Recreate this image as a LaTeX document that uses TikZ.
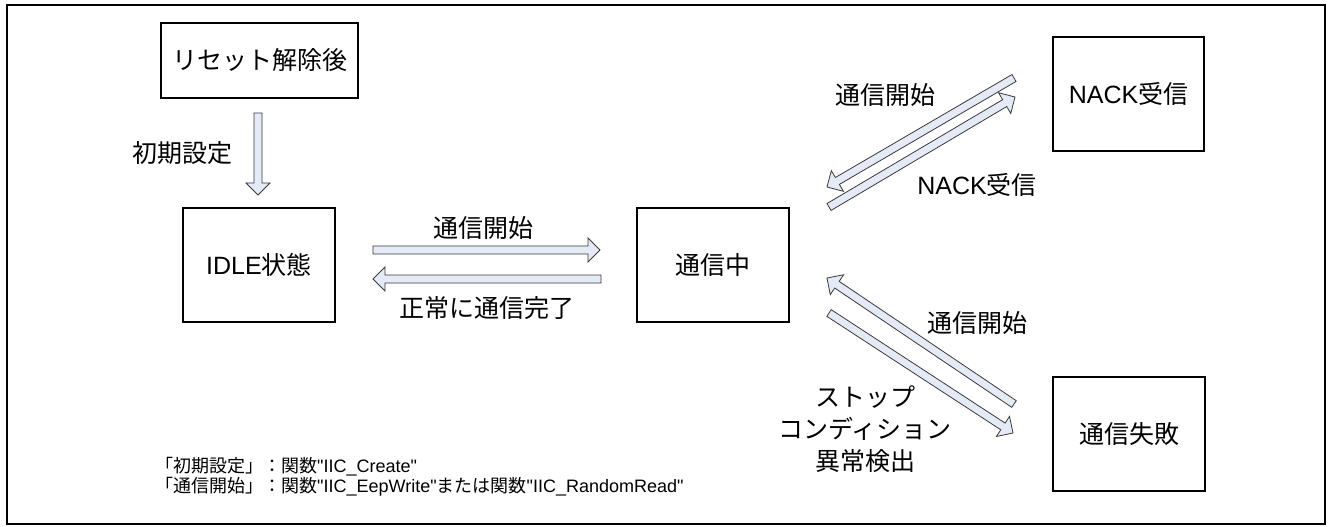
\documentclass[tikz,border=0pt]{standalone}
\usepackage{fontspec}
\setmainfont{Noto Sans CJK JP}
\newfontfamily\lat{Liberation Sans}
\usetikzlibrary{calc}
\definecolor{arrfill}{HTML}{E4EAF6}
\definecolor{arrline}{HTML}{3A3A3A}
\newcommand\blockarr[2]{%
  \coordinate (ba-c) at ($(#2)!12pt!(#1)$);
  \draw[blk] ($(#1)!4pt!90:(#2)$) -- ($(ba-c)!4pt!90:(#2)$) -- ($(ba-c)!12pt!90:(#2)$) -- (#2)
    -- ($(ba-c)!12pt!-90:(#2)$) -- ($(ba-c)!4pt!-90:(#2)$) -- ($(#1)!4pt!-90:(#2)$) -- cycle;}
\begin{document}
\begin{tikzpicture}[x=1pt,y=-1pt,
  box/.style={draw, line width=1.4pt, inner sep=0pt, font=\fontsize{25}{30}\selectfont},
  lbl/.style={font=\fontsize{25}{32}\selectfont, inner sep=0pt, align=center},
  blk/.style={draw=arrline, fill=arrfill, line width=0.8pt, line join=miter},
  note/.style={font=\fontsize{18}{20}\selectfont, inner sep=0pt, anchor=west}]
\useasboundingbox (0,0) rectangle (1328,527);
\draw[line width=2.6pt] (7,5) rectangle (1325,524);
% state boxes
\node[box, minimum width=197pt, minimum height=75pt] (reset) at (259.5,60.5) {リセット解除後};
\node[box, minimum width=152pt, minimum height=114pt] (idle) at (259,265) {{\lat IDLE}状態};
\node[box, minimum width=152pt, minimum height=114pt] (comm) at (713,265) {通信中};
\node[box, minimum width=151pt, minimum height=114pt] (nack) at (1128.5,94) {{\lat NACK}受信};
\node[box, minimum width=152pt, minimum height=114pt] (fail) at (1129,434) {通信失敗};
% arrow end points
\coordinate (d1) at (258,113);  \coordinate (d2) at (258,195);
\coordinate (h1) at (373,250);  \coordinate (h2) at (600,250);
\coordinate (h3) at (601,279);  \coordinate (h4) at (373,279);
\coordinate (ua1) at (1014,78); \coordinate (ua2) at (827,187);
\coordinate (ub1) at (829,207); \coordinate (ub2) at (1015,97);
\coordinate (la1) at (1014,404); \coordinate (la2) at (827,278);
\coordinate (lb1) at (829,313); \coordinate (lb2) at (1013,433);
\blockarr{d1}{d2}
\blockarr{h1}{h2}
\blockarr{h3}{h4}
\blockarr{ua1}{ua2}
\blockarr{ub1}{ub2}
\blockarr{la1}{la2}
\blockarr{lb1}{lb2}
% labels
\node[lbl] (l1) at (182,153) {初期設定};
\node[lbl] (l2) at (483,228) {通信開始};
\node[lbl] (l3) at (487,308) {正常に通信完了};
\node[lbl] (l4) at (885,95) {通信開始};
\node[lbl] (l5) at (977,185) {{\lat NACK}受信};
\node[lbl] (l6) at (977,323) {通信開始};
\node[lbl] (l7) at (865,429) {ストップ\\コンディション\\異常検出};
% notes
\node[note] (n1) at (155,467) {「初期設定」：関数{\lat"IIC\_Create"}};
\node[note] (n2) at (155,487) {「通信開始」：関数{\lat"IIC\_EepWrite"}または関数{\lat"IIC\_RandomRead"}};
\end{tikzpicture}
\end{document}
